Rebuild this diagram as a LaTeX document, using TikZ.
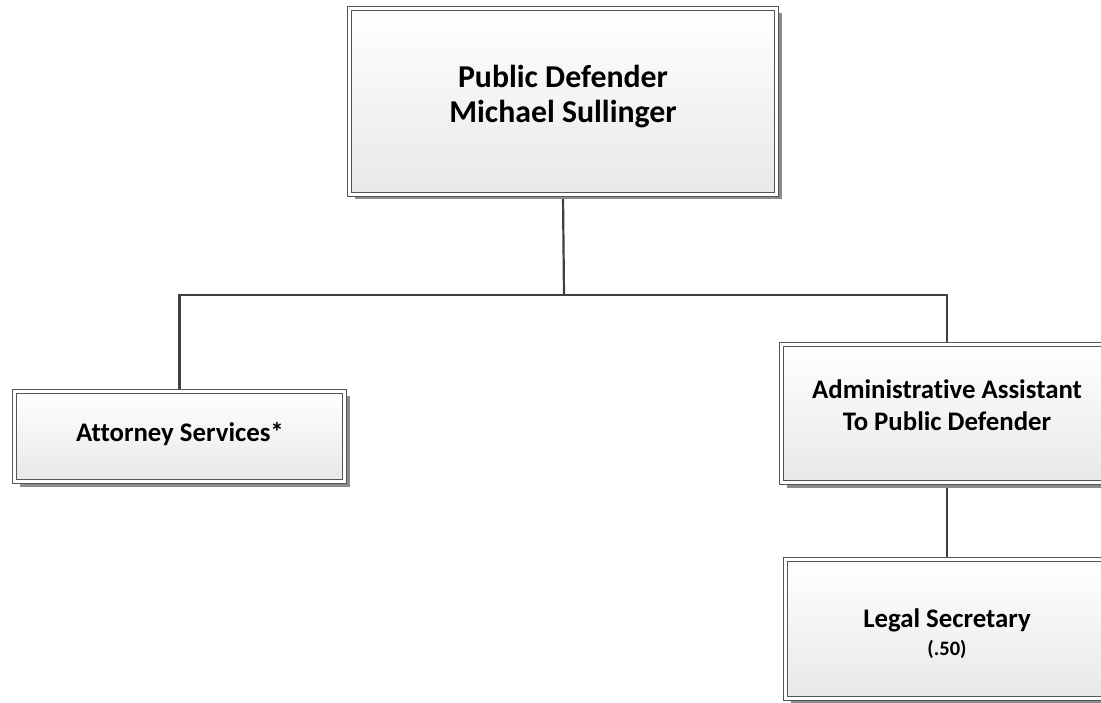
\documentclass[tikz,border=0pt]{standalone}
\usepackage{fontspec}
\setmainfont{Carlito}[Ligatures=NoCommon, Contextuals=NoAlternate]
\usetikzlibrary{shadows,backgrounds}
\definecolor{edge}{HTML}{555555}
\definecolor{wire}{HTML}{404040}
\definecolor{shade}{HTML}{8C8C8C}
\begin{document}
\begin{tikzpicture}[x=1pt,y=-1pt,
  orgbox/.style={rectangle, draw=edge, line width=0.9pt, double=white,
    double distance=3pt, top color=white, bottom color=black!9,
    inner sep=0pt,
    drop shadow={shadow xshift=5pt, shadow yshift=-5pt, fill=shade, opacity=1}},
  bigtxt/.style={anchor=base, inner sep=0pt, font=\bfseries\fontsize{31.8}{36}\selectfont},
  txt/.style={anchor=base, inner sep=0pt, font=\bfseries\fontsize{26.8}{31}\selectfont},
  smalltxt/.style={anchor=base, inner sep=0pt, font=\bfseries\fontsize{20.5}{24}\selectfont},
  wire/.style={draw=wire, line width=2.2pt}]
\useasboundingbox (0,0) rectangle (1101,703);
\clip (0,0) rectangle (1101,703);
% boxes
\node[orgbox, minimum width=427pt, minimum height=186pt] (pd) at (563,101.5) {};
\node[orgbox, minimum width=330pt, minimum height=90pt] (att) at (179.5,436.5) {};
\node[orgbox, minimum width=331pt, minimum height=138pt] (adm) at (947,413.5) {};
\node[orgbox, minimum width=323pt, minimum height=139pt] (sec) at (947,629) {};
% box captions
\node[bigtxt] (pdA) at (563,88) {Public Defender};
\node[bigtxt] (pdB) at (563,123) {Michael Sullinger};
\node[txt] (attA) at (180,441) {Attorney Services*};
\node[txt] (admA) at (947,399) {Administrative Assistant};
\node[txt] (admB) at (947,430) {To Public Defender};
\node[txt] (secA) at (947,627) {Legal Secretary};
\node[smalltxt] (secB) at (947,655) {(.50)};
% reporting lines
\coordinate (bus) at (564,295);
\begin{scope}[on background layer]
  \draw[wire] (pd.south) -- (bus);
  \draw[wire] (att.north) |- (bus) -| (adm.north);
  \draw[wire] (adm.south) -- (sec.north);
\end{scope}
\end{tikzpicture}
\end{document}
